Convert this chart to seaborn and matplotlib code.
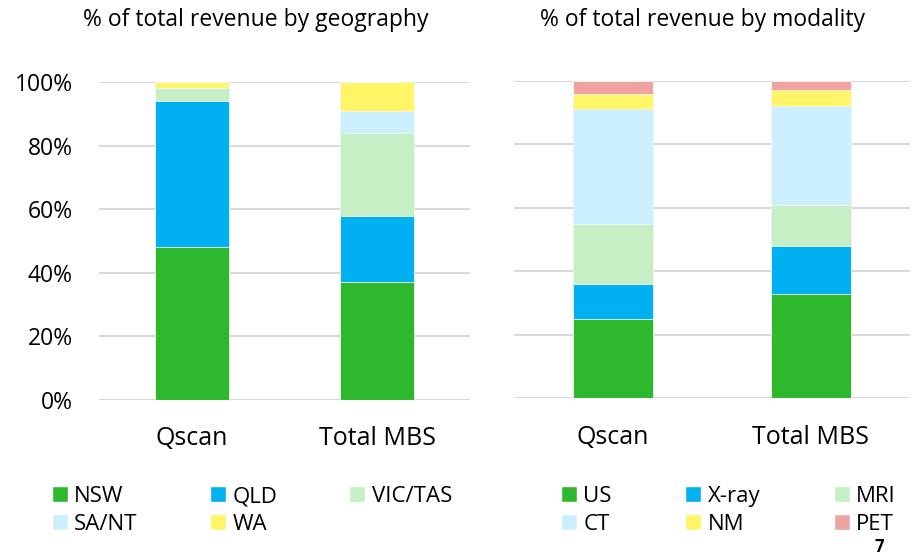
import numpy as np
import pandas as pd
import matplotlib
matplotlib.use("Agg")
import matplotlib.pyplot as plt
import seaborn as sns
from matplotlib.patches import Patch

# === Data ===
bars = ["Qscan", "Total MBS"]

geo_labels = ["NSW", "QLD", "VIC/TAS", "SA/NT", "WA"]
geo_qscan = [48, 46, 4, 0, 2]
geo_mbs = [37, 21, 26, 7, 9]

mod_labels = ["US", "X-ray", "MRI", "CT", "NM", "PET"]
mod_qscan = [25, 11, 19, 36, 5, 4]
mod_mbs = [33, 15, 13, 31, 5, 3]

colors = ["#2EB82E", "#00B0F0", "#C6EFC6", "#CCEFFF", "#FFF566", "#F0A3A3"]

sns.set_style("white")
plt.rcParams["font.family"] = ["Open Sans", "DejaVu Sans"]
plt.rcParams.update({"text.color": "black", "xtick.color": "black",
                     "ytick.color": "black"})


def stacked(ax, labels, qscan, mbs):
    df = pd.DataFrame({"Qscan": qscan, "Total MBS": mbs}, index=labels)
    cum = df.cumsum() / 100.0
    # draw tallest first so lower segments sit on top of it
    for i in reversed(range(len(labels))):
        sns.barplot(x=bars, y=cum.iloc[i].values, color=colors[i],
                    saturation=1, width=0.4, linewidth=0.6,
                    edgecolor="#f4f4f4", ax=ax)
    ax.set_xlim(-0.5, 1.5)
    ax.set_ylim(0, 1)
    ax.set_yticks(np.arange(0, 1.01, 0.2))
    ax.grid(axis="y", color="#d9d9d9", linewidth=1.5)
    ax.set_axisbelow(True)
    sns.despine(ax=ax, left=True, bottom=True)
    ax.tick_params(axis="both", length=0, labelsize=16.5, colors="black")
    ax.tick_params(axis="x", pad=19, labelsize=18)
    ax.tick_params(axis="y", pad=19)
    ax.set_xlabel("")
    ax.set_ylabel("")


fig = plt.figure(figsize=(9.17, 5.57), dpi=100)
ax1 = fig.add_axes([0.108, 0.2819, 0.4046, 0.571])
ax2 = fig.add_axes([0.5605, 0.2849, 0.4318, 0.570])

stacked(ax1, geo_labels, geo_qscan, geo_mbs)
stacked(ax2, mod_labels, mod_qscan, mod_mbs)

ax1.set_yticklabels([f"{int(v)}%" for v in np.arange(0, 101, 20)])
ax2.set_yticklabels([])

fig.text(256 / 917, 1 - 20 / 557, "% of total revenue by geography",
         ha="center", va="center", fontsize=16.5)
fig.text(702 / 917, 1 - 20 / 557, "% of total revenue by modality",
         ha="center", va="center", fontsize=16.5)

# legends, filled row by row
def legend(ax, labels, order, left, width):
    handles = [Patch(facecolor=colors[i], label=labels[i]) for i in order]
    top = 1 - 486 / 557
    ax.legend(handles=handles, ncol=3, loc="upper left",
              bbox_to_anchor=(left, top - 0.1, width, 0.1),
              bbox_transform=fig.transFigure,
              mode="expand", frameon=False, fontsize=16,
              handlelength=0.7, handleheight=0.7, handletextpad=0.3,
              labelspacing=0.3, borderpad=0, borderaxespad=0)

legend(ax1, geo_labels, [0, 3, 1, 4, 2], 52 / 917, 400 / 917)
legend(ax2, mod_labels, [0, 3, 1, 4, 2, 5], 561 / 917, 335 / 917)

fig.text(879 / 917, 1 / 557, "7", ha="center", va="bottom",
         fontsize=12, fontweight="bold")

fig.savefig("out.png", dpi=100)
